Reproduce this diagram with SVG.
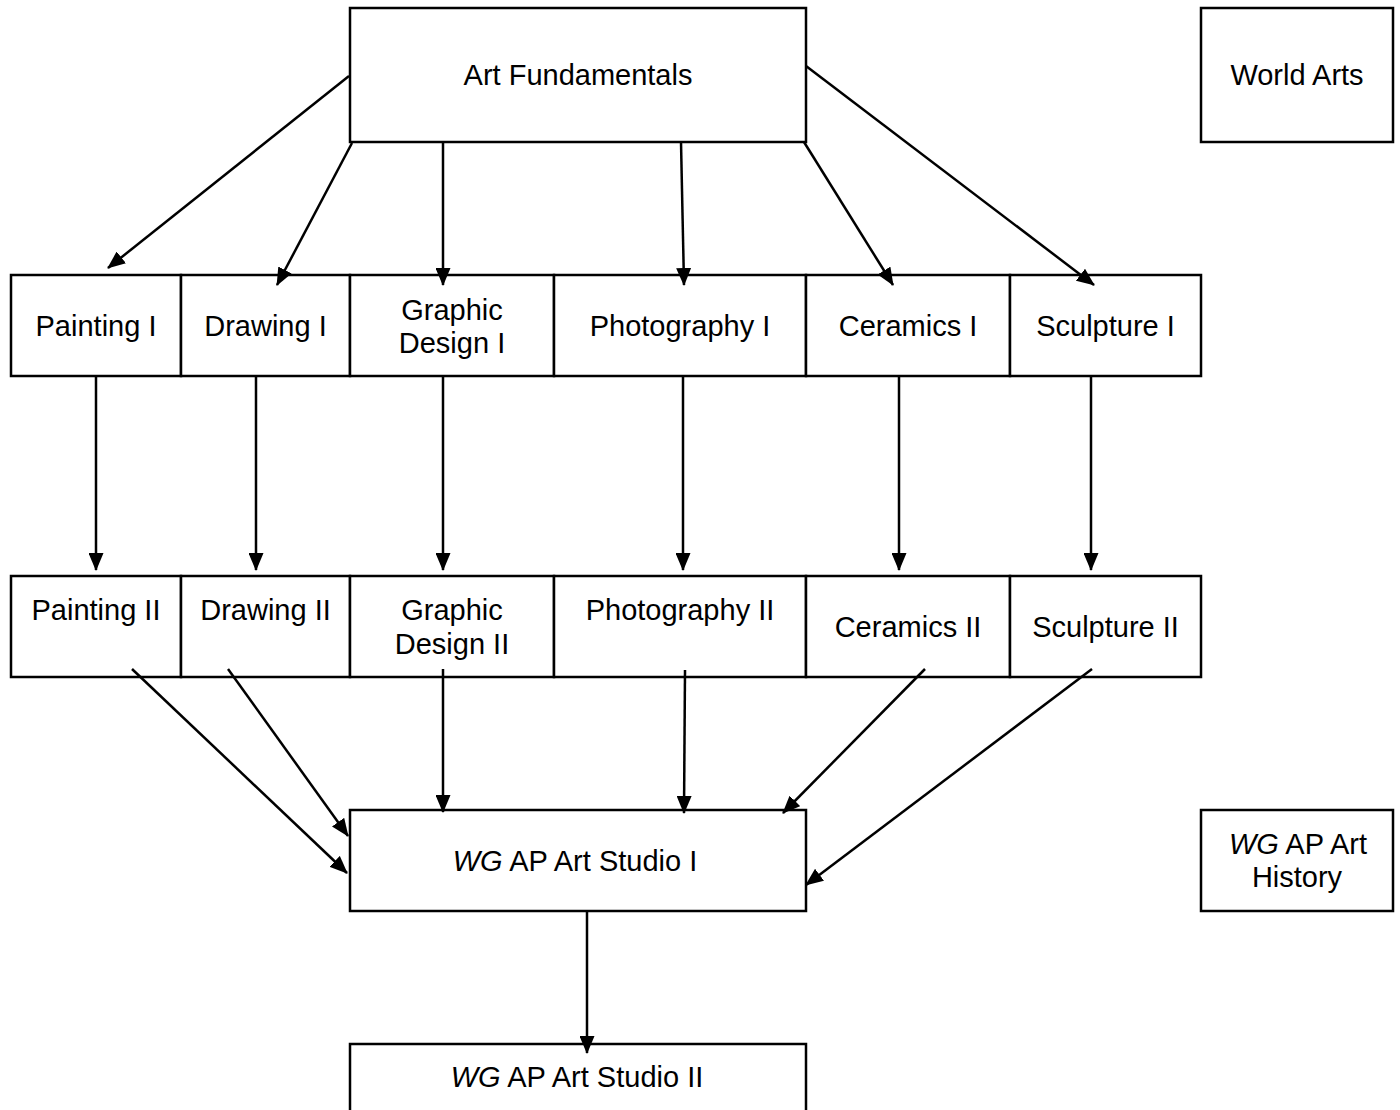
<svg xmlns="http://www.w3.org/2000/svg" width="1400" height="1110" viewBox="0 0 1400 1110">
  <style>
    .box { fill: #ffffff; stroke: #000000; stroke-width: 2.5; }
    .lbl { font-family: "Liberation Sans", Arial, sans-serif; font-size: 29px; fill: #000000; text-anchor: middle; }
    .em { font-style: italic; }
    .arr { stroke: #000000; stroke-width: 2.5; fill: none; marker-end: url(#head); }
  </style>
  <defs>
    <marker id="head" viewBox="0 0 18 15" refX="17" refY="7.5" markerWidth="18" markerHeight="15" markerUnits="userSpaceOnUse" orient="auto">
      <path d="M0,0 L18,7.5 L0,15 z" fill="#000000"/>
    </marker>
  </defs>
  <rect width="1400" height="1110" fill="#ffffff"/>

  <!-- top level -->
  <g id="art-fundamentals">
    <rect class="box" x="350" y="8" width="456" height="134"/>
    <text class="lbl" x="578" y="85">Art Fundamentals</text>
  </g>
  <g id="world-arts">
    <rect class="box" x="1201" y="8" width="192" height="134"/>
    <text class="lbl" x="1297" y="85">World Arts</text>
  </g>

  <!-- level I courses -->
  <g id="painting-1">
    <rect class="box" x="11" y="275" width="170" height="101"/>
    <text class="lbl" x="96" y="336">Painting I</text>
  </g>
  <g id="drawing-1">
    <rect class="box" x="181" y="275" width="169" height="101"/>
    <text class="lbl" x="265.5" y="336">Drawing I</text>
  </g>
  <g id="graphic-design-1">
    <rect class="box" x="350" y="275" width="204" height="101"/>
    <text class="lbl" x="452" y="320">Graphic</text>
    <text class="lbl" x="452" y="353">Design I</text>
  </g>
  <g id="photography-1">
    <rect class="box" x="554" y="275" width="252" height="101"/>
    <text class="lbl" x="680" y="336">Photography I</text>
  </g>
  <g id="ceramics-1">
    <rect class="box" x="806" y="275" width="204" height="101"/>
    <text class="lbl" x="908" y="336">Ceramics I</text>
  </g>
  <g id="sculpture-1">
    <rect class="box" x="1010" y="275" width="191" height="101"/>
    <text class="lbl" x="1105.5" y="336">Sculpture I</text>
  </g>

  <!-- level II courses -->
  <g id="painting-2">
    <rect class="box" x="11" y="576" width="170" height="101"/>
    <text class="lbl" x="96" y="620">Painting II</text>
  </g>
  <g id="drawing-2">
    <rect class="box" x="181" y="576" width="169" height="101"/>
    <text class="lbl" x="265.5" y="620">Drawing II</text>
  </g>
  <g id="graphic-design-2">
    <rect class="box" x="350" y="576" width="204" height="101"/>
    <text class="lbl" x="452" y="620">Graphic</text>
    <text class="lbl" x="452" y="654">Design II</text>
  </g>
  <g id="photography-2">
    <rect class="box" x="554" y="576" width="252" height="101"/>
    <text class="lbl" x="680" y="620">Photography II</text>
  </g>
  <g id="ceramics-2">
    <rect class="box" x="806" y="576" width="204" height="101"/>
    <text class="lbl" x="908" y="637">Ceramics II</text>
  </g>
  <g id="sculpture-2">
    <rect class="box" x="1010" y="576" width="191" height="101"/>
    <text class="lbl" x="1105.5" y="637">Sculpture II</text>
  </g>

  <!-- AP level -->
  <g id="ap-studio-1">
    <rect class="box" x="350" y="810" width="456" height="101"/>
    <text class="lbl" x="575" y="871"><tspan class="em">WG</tspan> AP Art Studio I</text>
  </g>
  <g id="ap-art-history">
    <rect class="box" x="1201" y="810" width="192" height="101"/>
    <text class="lbl" x="1298" y="854"><tspan class="em">WG</tspan> AP Art</text>
    <text class="lbl" x="1297" y="887">History</text>
  </g>
  <g id="ap-studio-2">
    <rect class="box" x="350" y="1044" width="456" height="100"/>
    <text class="lbl" x="577" y="1087"><tspan class="em">WG</tspan> AP Art Studio II</text>
  </g>

  <!-- connectors -->
  <g id="connectors">
    <!-- fundamentals to level I -->
    <line class="arr" x1="349" y1="76" x2="108" y2="268"/>
    <line class="arr" x1="352" y1="143" x2="277" y2="285"/>
    <line class="arr" x1="443" y1="142" x2="443" y2="285"/>
    <line class="arr" x1="681" y1="142" x2="684" y2="285"/>
    <line class="arr" x1="804" y1="142" x2="893" y2="285"/>
    <line class="arr" x1="806" y1="66" x2="1094" y2="285"/>
    <!-- level I to level II -->
    <line class="arr" x1="96" y1="377" x2="96" y2="570"/>
    <line class="arr" x1="256" y1="377" x2="256" y2="570"/>
    <line class="arr" x1="443" y1="377" x2="443" y2="570"/>
    <line class="arr" x1="683" y1="377" x2="683" y2="570"/>
    <line class="arr" x1="899" y1="377" x2="899" y2="570"/>
    <line class="arr" x1="1091" y1="377" x2="1091" y2="570"/>
    <!-- level II to AP studio I -->
    <line class="arr" x1="132" y1="669" x2="347" y2="873"/>
    <line class="arr" x1="228" y1="669" x2="348" y2="836"/>
    <line class="arr" x1="443" y1="669" x2="443" y2="812"/>
    <line class="arr" x1="685" y1="670" x2="684" y2="813"/>
    <line class="arr" x1="925" y1="669" x2="783" y2="813"/>
    <line class="arr" x1="1092" y1="669" x2="806" y2="885"/>
    <!-- AP studio I to II -->
    <line class="arr" x1="587" y1="911" x2="587" y2="1053"/>
  </g>
</svg>
